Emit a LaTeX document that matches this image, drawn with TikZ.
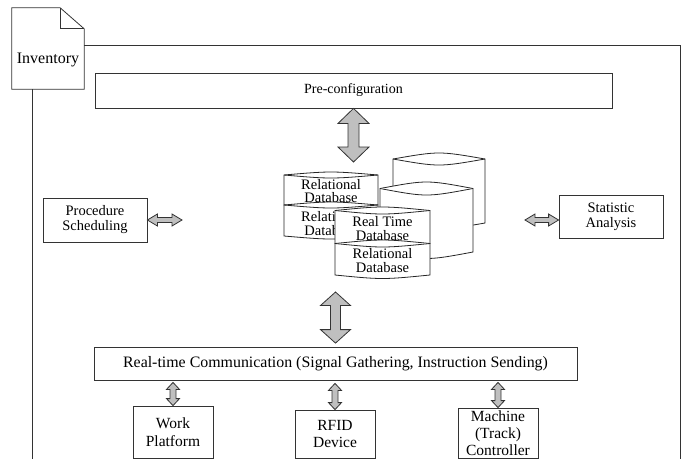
\documentclass[tikz,border=0pt]{standalone}
\usepackage{fontspec}
\setmainfont{Liberation Serif}
\usetikzlibrary{calc}

% vertical double block arrow between two points (top, bottom)
\newcommand\vblock[5]{%
  \draw[blockarrow] let \p1=#1, \p2=#2 in
    (\x1,\y1) -- (\x1+#3pt,\y1-#5pt) -- (\x1+#4pt,\y1-#5pt) -- (\x1+#4pt,\y2+#5pt)
    -- (\x1+#3pt,\y2+#5pt) -- (\x1,\y2) -- (\x1-#3pt,\y2+#5pt) -- (\x1-#4pt,\y2+#5pt)
    -- (\x1-#4pt,\y1-#5pt) -- (\x1-#3pt,\y1-#5pt) -- cycle;}
% horizontal double block arrow between two points (left, right)
\newcommand\hblock[5]{%
  \draw[blockarrow] let \p1=#1, \p2=#2 in
    (\x1,\y1) -- (\x1+#5pt,\y1+#3pt) -- (\x1+#5pt,\y1+#4pt) -- (\x2-#5pt,\y1+#4pt)
    -- (\x2-#5pt,\y1+#3pt) -- (\x2,\y1) -- (\x2-#5pt,\y1-#3pt) -- (\x2-#5pt,\y1-#4pt)
    -- (\x1+#5pt,\y1-#4pt) -- (\x1+#5pt,\y1-#3pt) -- cycle;}
% database cylinder: left, right, top, bottom, lens depth
\newcommand\dbcyl[5]{%
  \filldraw[dbline] (#1,#3) .. controls ({(#1+#2)/2},{#3-#5/0.75}) .. (#2,#3)
    -- (#2,#4) .. controls ({(#1+#2)/2},{#4+#5/0.75}) .. (#1,#4) -- cycle;
  \draw[dbline] (#1,#3) .. controls ({(#1+#2)/2},{#3+#5/0.75}) .. (#2,#3);}

\tikzset{
  box/.style={draw=black!80, line width=0.8pt, fill=white, align=center,
    inner sep=0pt},
  frameline/.style={draw=black!80, line width=0.8pt},
  dbline/.style={draw=black!85, line width=0.8pt, fill=white},
  blockarrow/.style={draw=black!80, line width=0.8pt, fill=black!25,
    line join=miter},
  dbtext/.style={font=\fontsize{14.5}{13.5}\selectfont, align=center},
}

\begin{document}
\begin{tikzpicture}[x=1pt,y=-1pt]
\useasboundingbox (0,0) rectangle (682,459);

% inventory document with folded corner
\node[minimum width=72pt, minimum height=81pt, inner sep=0pt] (inv) at (48,48.5) {};
\draw[frameline] (inv.south west) -- (inv.north west)
  -- ($(inv.north east)+(-24,0)$) -- ($(inv.north east)+(0,21)$)
  -- (inv.south east) -- cycle;
\draw[frameline] ($(inv.north east)+(-24,0)$) -- ($(inv.north east)+(-24,21)$)
  -- ($(inv.north east)+(0,21)$);
\node[font=\fontsize{16}{16}\selectfont] (invtext) at ($(inv.center)+(0,11)$) {Inventory};

% enclosing frame
\coordinate (frtl) at (inv.east |- 0,45);
\coordinate (frtr) at (680,45);
\coordinate (frbr) at (680,459);
\coordinate (frl) at (32,89);
\coordinate (frbl) at (32,459);
\draw[frameline] (frtl) -- (frtr) -- (frbr);
\draw[frameline] (frl) -- (frbl);

% boxes
\node[box, minimum width=517pt, minimum height=35pt,
  font=\fontsize{14}{14}\selectfont] (pre) at (353.5,90.5) {Pre-configuration};
\node[box, minimum width=104pt, minimum height=44pt,
  font=\fontsize{14.5}{15}\selectfont] (proc) at (95,220) {Procedure\\Scheduling};
\node[box, minimum width=104pt, minimum height=43pt,
  font=\fontsize{14.5}{15}\selectfont] (stat) at (611,216.5) {Statistic\\Analysis};
\node[box, minimum width=483pt, minimum height=33pt,
  font=\fontsize{15.9}{15.9}\selectfont] (comm) at (335.5,363.5)
  {Real-time Communication (Signal Gathering, Instruction Sending)};
\node[box, minimum width=80pt, minimum height=52pt,
  font=\fontsize{15.5}{17.5}\selectfont] (work) at (173,432) {Work\\Platform};
\node[box, minimum width=80pt, minimum height=48pt,
  font=\fontsize{15.5}{17.5}\selectfont] (rfid) at (335,434) {RFID\\Device};
\node[box, minimum width=80pt, minimum height=50pt,
  font=\fontsize{15.5}{17}\selectfont] (mach) at (498,433) {Machine\\(Track)\\Controller};

% database cluster
\dbcyl{393}{485}{159}{223}{6}
\dbcyl{380}{473}{188.5}{252}{6.5}
\dbcyl{284}{378}{175}{205}{3}
\dbcyl{284}{378}{205}{236}{3}
\node[dbtext] (db1) at (331,191) {Relational\\Database};
\node[dbtext] (db2) at (331,223.5) {Relational\\Database};
\dbcyl{335}{430}{210.5}{243.5}{3.5}
\dbcyl{335}{430}{243.5}{275}{3.5}
\node[dbtext] (db3) at (382.5,228.5) {Real Time\\Database};
\node[dbtext] (db4) at (382.5,260.5) {Relational\\Database};

% connectors
\coordinate (dbtop) at (pre.south |- 0,162);
\vblock{(pre.south)}{(dbtop)}{15.5}{5.5}{15}
\coordinate (dbbot) at (comm.north |- 0,292);
\coordinate (commin) at ($(comm.north)+(0,-3.5)$);
\vblock{(dbbot)}{(commin)}{15}{5}{13.5}

\coordinate (w1) at ($(comm.south -| work.north)+(0,2)$);
\vblock{(w1)}{(work.north)}{6.5}{3}{7}
\coordinate (r1) at ($(comm.south -| rfid.north)+(0,3)$);
\vblock{(r1)}{(rfid.north)}{6.5}{3}{7}
\coordinate (m1) at ($(comm.south -| mach.north)+(0,2)$);
\vblock{(m1)}{(mach.north)}{6.5}{3}{7}

\coordinate (pr) at (182,220);
\hblock{(proc.east)}{(pr)}{6}{2.5}{10}
\coordinate (sl) at (525,220);
\coordinate (sr) at (stat.west |- 0,220);
\hblock{(sl)}{(sr)}{6}{2.5}{10}
\end{tikzpicture}
\end{document}
